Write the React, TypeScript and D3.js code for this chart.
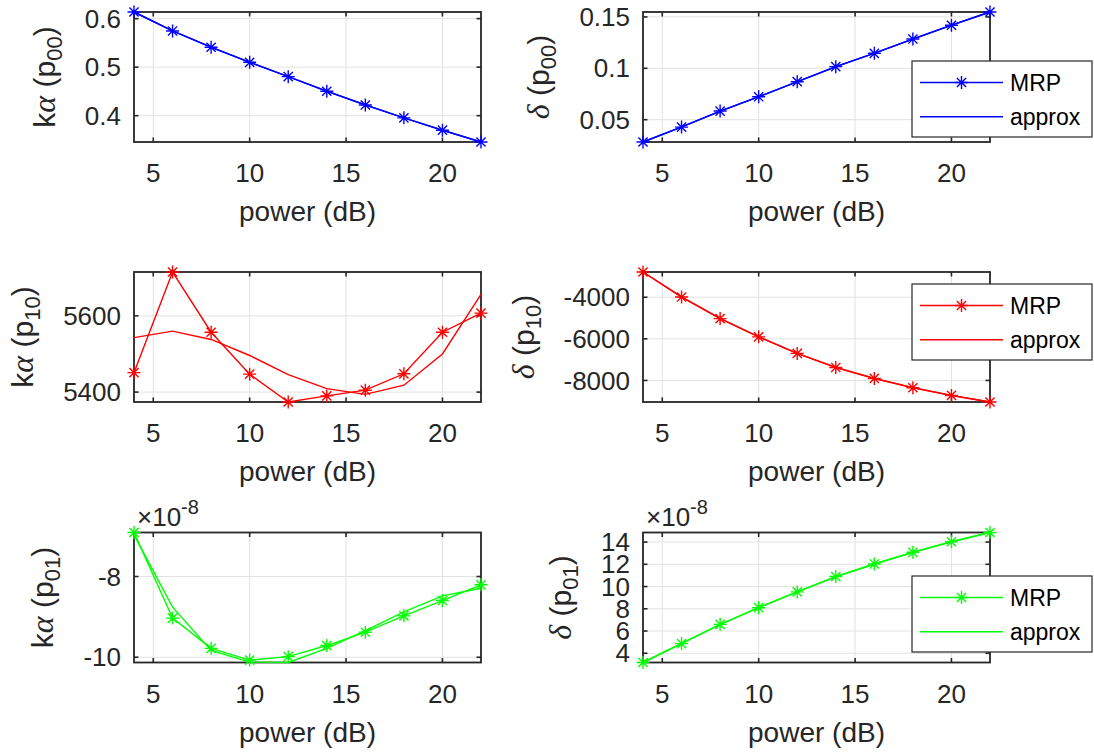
import React from 'react';
import * as d3 from 'd3';

// ---------- data ----------
const power = [4, 6, 8, 10, 12, 14, 16, 18, 20, 22];
const xTicks = [5, 10, 15, 20];

const kaP00Mrp = [0.6137, 0.5746, 0.541, 0.510, 0.4804, 0.4503, 0.422, 0.3955, 0.370, 0.3457];
const kaP00Approx = [0.6137, 0.5750, 0.5413, 0.5103, 0.4806, 0.4505, 0.4222, 0.3956, 0.3701, 0.3457];
const kaP00Ticks = [0.4, 0.5, 0.6];

const dP00Mrp = [0.0283, 0.0428, 0.0584, 0.0723, 0.0870, 0.1016, 0.1146, 0.1285, 0.1419, 0.1548];
const dP00Approx = [0.0283, 0.0430, 0.0582, 0.0724, 0.0869, 0.1015, 0.1147, 0.1284, 0.1420, 0.1548];
const dP00Ticks = [0.05, 0.1, 0.15];

const kaP10Mrp = [5451, 5715, 5557, 5447, 5374, 5390, 5405, 5448, 5557, 5607];
const kaP10Approx = [5543, 5560, 5538, 5496, 5446, 5409, 5394, 5418, 5500, 5656];
const kaP10Ticks = [5400, 5600];

const dP10Mrp = [-2787, -3990, -5026, -5904, -6700, -7376, -7904, -8350, -8720, -9036];
const dP10Approx = [-2787, -3985, -5020, -5900, -6695, -7372, -7902, -8348, -8722, -9036];
const dP10Ticks = [-8000, -6000, -4000];

// values in units of 1e-8
const kaP01Mrp = [-6.91, -9.03, -9.78, -10.07, -9.985, -9.71, -9.38, -8.975, -8.595, -8.206];
const kaP01Approx = [-6.97, -8.76, -9.83, -10.12, -10.13, -9.78, -9.34, -8.876, -8.48, -8.29];
const kaP01Ticks = [-10, -8];

const dP01Mrp = [3.17, 4.87, 6.6, 8.1, 9.52, 10.9, 12.03, 13.08, 14.03, 14.86];
const dP01Approx = [3.17, 4.88, 6.58, 8.1, 9.53, 10.88, 12.03, 13.07, 14.03, 14.86];
const dP01Ticks = [4, 6, 8, 10, 12, 14];

const legendLabels = ['MRP', 'approx'];
const xLabel = 'power (dB)';

type Panel = {
  mrp: number[];
  approx: number[];
  ticks: number[];
  greek: string;
  prefix: string;
  sub: string;
  color: string;
  col: number;
  row: number;
  legendTop?: number;
  exponent?: string;
};

const panels: Panel[] = [
  { mrp: kaP00Mrp, approx: kaP00Approx, ticks: kaP00Ticks, prefix: 'k', greek: 'α', sub: '00', color: '#0000ff', col: 0, row: 0 },
  { mrp: dP00Mrp, approx: dP00Approx, ticks: dP00Ticks, prefix: '', greek: 'δ', sub: '00', color: '#0000ff', col: 1, row: 0, legendTop: 49 },
  { mrp: kaP10Mrp, approx: kaP10Approx, ticks: kaP10Ticks, prefix: 'k', greek: 'α', sub: '10', color: '#ff0000', col: 0, row: 1 },
  { mrp: dP10Mrp, approx: dP10Approx, ticks: dP10Ticks, prefix: '', greek: 'δ', sub: '10', color: '#ff0000', col: 1, row: 1, legendTop: 12 },
  { mrp: kaP01Mrp, approx: kaP01Approx, ticks: kaP01Ticks, prefix: 'k', greek: 'α', sub: '01', color: '#00ff00', col: 0, row: 2, exponent: '-8' },
  { mrp: dP01Mrp, approx: dP01Approx, ticks: dP01Ticks, prefix: '', greek: 'δ', sub: '01', color: '#00ff00', col: 1, row: 2, legendTop: 43.5, exponent: '-8' },
];

// ---------- layout ----------
const W = 1094;
const H = 754;
const colLeft = [134, 643];
const plotW = 347;
const rowTop = [12, 272, 532.5];
const plotH = 130;
const tickFont = 26;
const labelFont = 28;
const yLabelFont = 30;
const legendFont = 23;
const axisColor = '#262626';
const gridColor = '#e2e2e2';
const sans = '"Liberation Sans", Arial, Helvetica, sans-serif';
const serif = '"Liberation Serif", "Times New Roman", serif';

function textWidth(s: string, size: number) {
  let w = 0;
  for (const c of s) {
    if (c === '.') w += 0.278;
    else if (c === '-') w += 0.333;
    else w += 0.556;
  }
  return w * size;
}

function starPath(r: number) {
  const d = r * Math.SQRT1_2;
  return `M${-r},0L${r},0M0,${-r}L0,${r}M${-d},${-d}L${d},${d}M${-d},${d}L${d},${-d}`;
}

function PanelView({ p }: { p: Panel }) {
  const left = colLeft[p.col];
  const top = rowTop[p.row];
  const x = d3.scaleLinear().domain([4, 22]).range([left, left + plotW]);
  const ext = d3.extent([...p.mrp, ...p.approx]) as [number, number];
  const y = d3.scaleLinear().domain(ext).range([top + plotH, top]);
  const line = d3
    .line<number>()
    .x((_, i) => x(power[i]))
    .y((d) => y(d));
  const tl = 4.5;
  const fmt = (v: number) => String(v);
  const maxLabelW = Math.max(...p.ticks.map((t) => textWidth(fmt(t), tickFont)));
  const yLabelX = left - 13 - maxLabelW - 30;
  const cy = top + plotH / 2;
  const star = starPath(6.5);
  const legX = 912;
  const legW = 180;
  const legH = 76;
  const lw = 1.4;
  return (
    <g>
      {/* grid */}
      {xTicks.map((t) => (
        <line key={'gx' + t} x1={x(t)} x2={x(t)} y1={top} y2={top + plotH} stroke={gridColor} strokeWidth={1} />
      ))}
      {p.ticks.map((t) => (
        <line key={'gy' + t} x1={left} x2={left + plotW} y1={y(t)} y2={y(t)} stroke={gridColor} strokeWidth={1} />
      ))}
      {/* box */}
      <rect x={left} y={top} width={plotW} height={plotH} fill="none" stroke={axisColor} strokeWidth={1.8} />
      {/* ticks */}
      {xTicks.map((t) => (
        <g key={'tx' + t}>
          <line x1={x(t)} x2={x(t)} y1={top + plotH} y2={top + plotH - tl} stroke={axisColor} strokeWidth={1.6} />
          <line x1={x(t)} x2={x(t)} y1={top} y2={top + tl} stroke={axisColor} strokeWidth={1.6} />
          <text x={x(t)} y={top + plotH + 40} textAnchor="middle" fontFamily={sans} fontSize={tickFont} fill={axisColor}>
            {t}
          </text>
        </g>
      ))}
      {p.ticks.map((t) => (
        <g key={'ty' + t}>
          <line x1={left} x2={left + tl} y1={y(t)} y2={y(t)} stroke={axisColor} strokeWidth={1.6} />
          <line x1={left + plotW} x2={left + plotW - tl} y1={y(t)} y2={y(t)} stroke={axisColor} strokeWidth={1.6} />
          <text x={left - 13} y={y(t)} dy="0.35em" textAnchor="end" fontFamily={sans} fontSize={tickFont} fill={axisColor}>
            {fmt(t)}
          </text>
        </g>
      ))}
      {/* exponent */}
      {p.exponent && (
        <text x={left + 3} y={top - 7} fontFamily={sans} fontSize={26} fill={axisColor}>
          <tspan>×10</tspan>
          <tspan dy={-12} fontSize={20}>{p.exponent}</tspan>
        </text>
      )}
      {/* x label */}
      <text x={left + plotW / 2} y={top + plotH + 79} textAnchor="middle" fontFamily={sans} fontSize={labelFont} fill={axisColor}>
        {xLabel}
      </text>
      {/* y label */}
      <text transform={`translate(${yLabelX},${cy}) rotate(-90)`} textAnchor="middle" fontFamily={sans} fontSize={yLabelFont} fill={axisColor}>
        {p.prefix && <tspan>{p.prefix}</tspan>}
        <tspan fontFamily={serif} fontStyle="italic" fontSize={32}>{p.greek}</tspan>
        <tspan> (p</tspan>
        <tspan dy={7} fontSize={22}>{p.sub}</tspan>
        <tspan dy={-7}>)</tspan>
      </text>
      {/* data */}
      <path d={line(p.approx) ?? ''} fill="none" stroke={p.color} strokeWidth={lw} />
      <path d={line(p.mrp) ?? ''} fill="none" stroke={p.color} strokeWidth={lw} />
      {p.mrp.map((v, i) => (
        <path key={'m' + i} d={star} transform={`translate(${x(power[i])},${y(v)})`} fill="none" stroke={p.color} strokeWidth={lw} />
      ))}
      {/* legend */}
      {p.legendTop !== undefined && (
        <g transform={`translate(${legX},${top + p.legendTop})`}>
          <rect x={0} y={0} width={legW} height={legH} fill="#ffffff" stroke={axisColor} strokeWidth={1.2} />
          {legendLabels.map((lab, i) => {
            const ly = i === 0 ? 21.5 : 55.7;
            return (
              <g key={lab}>
                <line x1={8} x2={91} y1={ly} y2={ly} stroke={p.color} strokeWidth={lw} />
                {i === 0 && <path d={star} transform={`translate(49.5,${ly})`} fill="none" stroke={p.color} strokeWidth={lw} />}
                <text x={98} y={ly} dy="0.36em" fontFamily={sans} fontSize={legendFont} fill="#000000">
                  {lab}
                </text>
              </g>
            );
          })}
        </g>
      )}
    </g>
  );
}

export default function App() {
  return (
    <svg width={W} height={H} style={{ display: 'block', position: 'absolute', left: 0, top: 0, background: '#ffffff' }}>
      <rect x={0} y={0} width={W} height={H} fill="#ffffff" />
      {panels.map((p, i) => (
        <PanelView key={i} p={p} />
      ))}
    </svg>
  );
}
